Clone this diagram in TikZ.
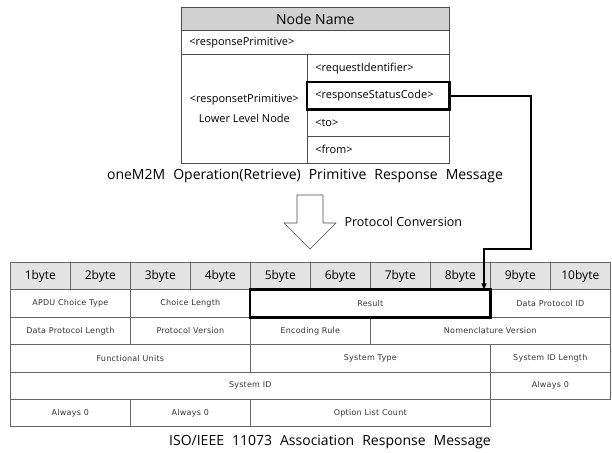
\documentclass[tikz,border=0pt]{standalone}
\usepackage{fontspec}
\setmainfont{Open Sans}
\newfontfamily\cellfont{DejaVu Sans}[LetterSpace=3]
\usetikzlibrary{arrows.meta}

\tikzset{
  cell/.style={draw=black!60, line width=.6pt, anchor=north west, inner sep=0pt,
    minimum height=27.4pt, text=black!80, font=\cellfont\fontsize{8}{10}\selectfont},
  bytecell/.style={cell, fill=black!11, minimum width=60pt, text=black,
    font=\fontsize{12}{14}\selectfont},
  primcell/.style={draw=black!70, line width=.6pt, anchor=north west, inner xsep=8pt,
    inner ysep=0pt, minimum height=27pt, text width=#1, align=left,
    font=\fontsize{11}{13}\selectfont},
  focus/.style={draw=black, line width=2.4pt},
  link/.style={draw=black, line width=1.6pt, -{Triangle[length=6pt,width=5pt]}},
  caption/.style={font=\fontsize{14}{16}\selectfont},
}

\begin{document}
\begin{tikzpicture}[x=1pt, y=-1pt]
	\useasboundingbox (0,0) rectangle (612,452);
	% oneM2M primitive
	\node[draw=black!70, line width=.6pt, fill=black!18, anchor=north west, inner sep=0pt,
	  minimum width=268pt, minimum height=23pt, font=\fontsize{14}{16}\selectfont] (nodename) at (181,7) {Node Name};
	\node[primcell=252pt, minimum height=24pt] (prim) at (181,30) {<responsePrimitive>};
	\node[draw=black!70, line width=.6pt, anchor=north west, inner sep=0pt, minimum width=126pt,
	  minimum height=109pt, align=center, font=\fontsize{11}{20}\selectfont] (lower) at (181,54)
	  {<responsetPrimitive>\\Lower Level Node};
	\node[primcell=126pt, minimum height=28pt] (reqid) at (307,54) {<requestIdentifier>};
	\node[primcell=126pt] (rsc) at (307,82) {<responseStatusCode>};
	\node[primcell=126pt] (to) at (307,109) {<to>};
	\node[primcell=126pt] (from) at (307,136) {<from>};
	\draw[focus] (rsc.north west) rectangle (rsc.south east);
	\node[caption] (onem2m) at (305,176) {\spaceskip=8pt oneM2M Operation(Retrieve) Primitive Response Message};

	% conversion
	\draw[draw=black!70, fill=white, line width=.6pt] (297,195) -- (323,195) -- (323,223) -- (336,223)
	  -- (310,249) -- (284,223) -- (297,223) -- cycle;
	\node[anchor=west, font=\fontsize{12.5}{14}\selectfont] (conv) at (341,222) {Protocol Conversion};

	% ISO/IEEE 11073 association response
	\foreach \i in {1,...,10}
	  \node[bytecell] (byte\i) at ({10+60*(\i-1)},262) {\i byte};
	\node[cell, minimum width=120pt] (apdu) at (10,289.4) {APDU Choice Type};
	\node[cell, minimum width=120pt] (choicelen) at (130,289.4) {Choice Length};
	\node[cell, minimum width=240pt] (result) at (250,289.4) {Result};
	\node[cell, minimum width=120pt] (dpid) at (490,289.4) {Data Protocol ID};
	\node[cell, minimum width=120pt] (dplen) at (10,316.8) {Data Protocol Length};
	\node[cell, minimum width=120pt] (protver) at (130,316.8) {Protocol Version};
	\node[cell, minimum width=120pt] (encrule) at (250,316.8) {Encoding Rule};
	\node[cell, minimum width=240pt] (nomver) at (370,316.8) {Nomenclature Version};
	\node[cell, minimum width=240pt] (funits) at (10,344.2) {Functional Units};
	\node[cell, minimum width=240pt] (systype) at (250,344.2) {System Type};
	\node[cell, minimum width=120pt] (sidlen) at (490,344.2) {System ID Length};
	\node[cell, minimum width=480pt] (sysid) at (10,371.6) {System ID};
	\node[cell, minimum width=120pt] (alwaysa) at (490,371.6) {Always 0};
	\node[cell, minimum width=120pt] (alwaysb) at (10,399) {Always 0};
	\node[cell, minimum width=120pt] (alwaysc) at (130,399) {Always 0};
	\node[cell, minimum width=240pt] (optcount) at (250,399) {Option List Count};
	\draw[focus] (result.north west) rectangle (result.south east);
	\node[caption] (isocap) at (330,442) {\spaceskip=8pt ISO/IEEE 11073 Association Response Message};

	% mapping
	\coordinate (turn) at (531,249);
	\coordinate (drop) at (484,249);
	\draw[link] (rsc.east) -| (turn) -- (drop) -- (drop |- result.north);
\end{tikzpicture}
\end{document}
